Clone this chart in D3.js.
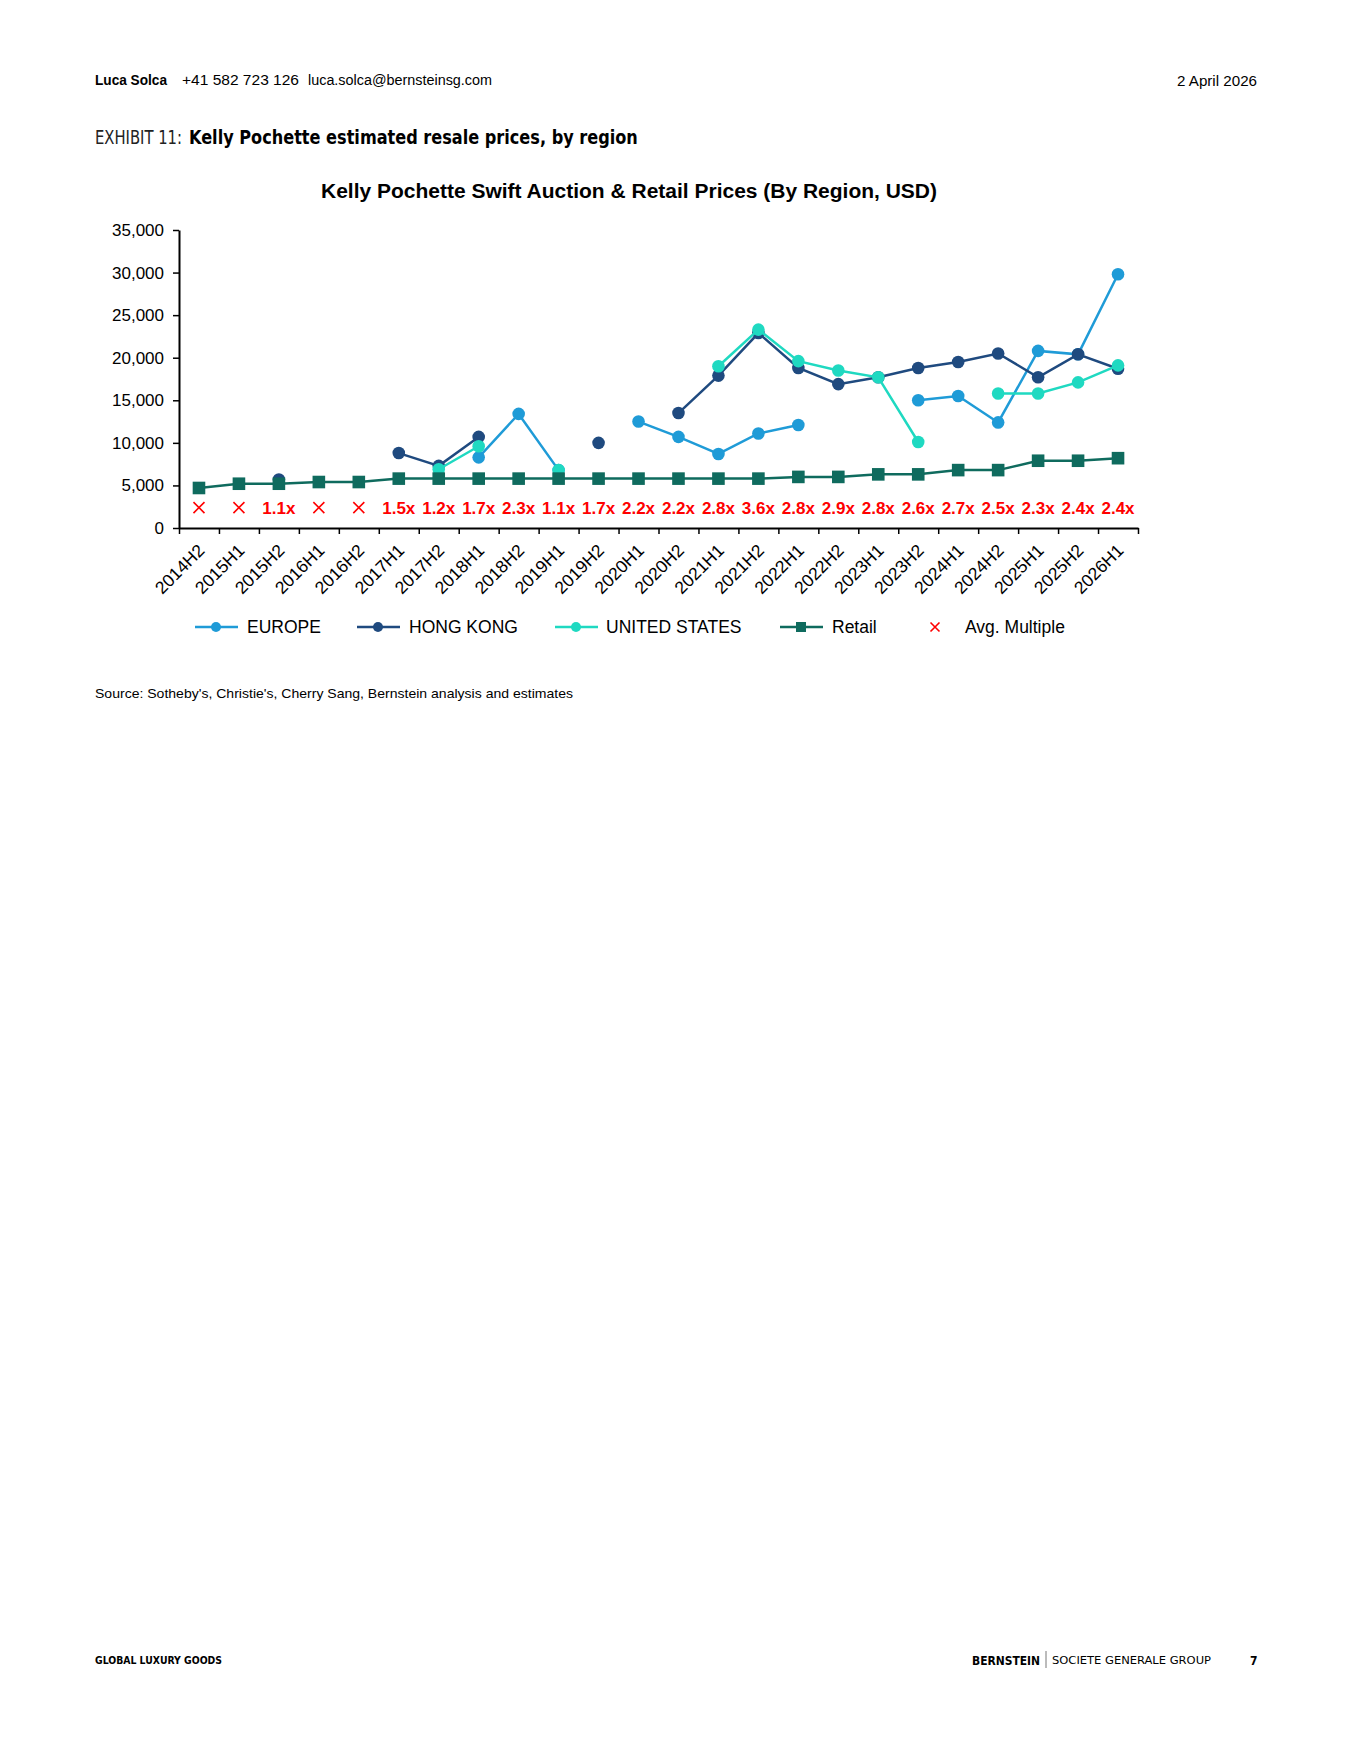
<!DOCTYPE html>
<html>
<head>
<meta charset="utf-8">
<script src="https://cdn.jsdelivr.net/npm/d3@7"></script>
<style>
  body { margin: 0; background: #fff; }
  svg { display: block; }
</style>
</head>
<body>
<div id="page"></div>
<script>
// half-year periods on the x axis
var categories = ['2014H2','2015H1','2015H2','2016H1','2016H2','2017H1','2017H2','2018H1','2018H2','2019H1',
  '2019H2','2020H1','2020H2','2021H1','2021H2','2022H1','2022H2','2023H1','2023H2','2024H1',
  '2024H2','2025H1','2025H2','2026H1'];

// auction prices (USD), null = no sale that period
var europe = [null,null,null,null,null,null,null,8300,13400,6800,null,12500,10700,8700,11100,12100,null,null,15000,15500,12400,20800,20400,29800];
var hongKong = [null,null,5700,null,null,8800,7300,10700,null,null,10000,null,13500,17900,22900,18800,16900,17700,18800,19500,20500,17700,20400,18700];
var unitedStates = [null,null,null,null,null,null,6900,9600,null,6800,null,null,null,19000,23300,19600,18500,17700,10100,null,15800,15800,17100,19100];
var retail = [4700,5200,5200,5400,5400,5800,5800,5800,5800,5800,5800,5800,5800,5800,5800,6000,6000,6300,6300,6800,6800,7900,7900,8200];

// avg auction / retail multiple, null shown as a cross
var multiples = [null,null,1.1,null,null,1.5,1.2,1.7,2.3,1.1,1.7,2.2,2.2,2.8,3.6,2.8,2.9,2.8,2.6,2.7,2.5,2.3,2.4,2.4];
var multipleLevel = 2400;   // value the multiple labels sit at

var yTicks = [0,5000,10000,15000,20000,25000,30000,35000];

var series = [
  {name: 'EUROPE', values: europe, color: '#1f9bd7', marker: 'circle'},
  {name: 'HONG KONG', values: hongKong, color: '#1f4a7f', marker: 'circle'},
  {name: 'UNITED STATES', values: unitedStates, color: '#1fd9c1', marker: 'circle'},
  {name: 'Retail', values: retail, color: '#0f6b5e', marker: 'square'}
];

var W = 1354, H = 1753;
var font = '"Liberation Sans", Arial, sans-serif';
var condensed = '"DejaVu Sans Condensed", "DejaVu Sans", sans-serif';

var svg = d3.select('#page').append('svg')
  .attr('width', W)
  .attr('height', H)
  .style('font-family', font);

svg.append('rect').attr('width', W).attr('height', H).attr('fill', '#fff');

// ---- page header
var head = svg.append('g').attr('fill', '#000').style('font-size', '14px');
head.append('text').attr('x', 95).attr('y', 85).attr('font-weight', 'bold')
  .attr('textLength', 72).attr('lengthAdjust', 'spacingAndGlyphs').text('Luca Solca');
head.append('text').attr('x', 182).attr('y', 85)
  .attr('textLength', 117).attr('lengthAdjust', 'spacingAndGlyphs').text('+41 582 723 126');
head.append('text').attr('x', 308).attr('y', 85)
  .attr('textLength', 184).attr('lengthAdjust', 'spacingAndGlyphs').text('luca.solca@bernsteinsg.com');
head.append('text').attr('x', 1257).attr('y', 86).attr('text-anchor', 'end')
  .style('font-size', '15px')
  .attr('textLength', 80).attr('lengthAdjust', 'spacingAndGlyphs')
  .text('2 April 2026');

// squeeze a text horizontally so it spans w pixels
function fitWidth(sel, x0, y0, w) {
  var nat = sel.node().getComputedTextLength();
  sel.attr('transform', 'translate(' + x0 + ',' + y0 + ') scale(' + (w / nat) + ',1)');
}

var exLabel = svg.append('text')
  .style('font-family', condensed).style('font-size', '20px')
  .attr('font-weight', 300).attr('fill', '#222')
  .text('EXHIBIT 11:');
fitWidth(exLabel, 95, 144, 87);
var exTitle = svg.append('text')
  .style('font-family', condensed).style('font-size', '20px')
  .attr('font-weight', 'bold')
  .text('Kelly Pochette estimated resale prices, by region');
fitWidth(exTitle, 189, 144, 449);

// ---- chart
var margin = {left: 179, right: 1138, top: 230, bottom: 528};

var x = d3.scaleBand().domain(categories).range([margin.left, margin.right]).padding(0);
var xEdge = d3.scaleLinear().domain([0, categories.length]).range([margin.left, margin.right]);
var y = d3.scaleLinear().domain([0, 35000]).range([margin.bottom, margin.top]);
var cx = function(i) { return x(categories[i]) + x.bandwidth() / 2; };

svg.append('text')
  .attr('x', 629).attr('y', 198)
  .attr('text-anchor', 'middle')
  .attr('font-weight', 'bold')
  .style('font-size', '20px')
  .attr('textLength', 616).attr('lengthAdjust', 'spacingAndGlyphs')
  .text('Kelly Pochette Swift Auction & Retail Prices (By Region, USD)');

// y axis
var yAxis = d3.axisLeft(y).tickValues(yTicks).tickFormat(d3.format(','))
  .tickSizeInner(6).tickSizeOuter(0).tickPadding(9);
var gy = svg.append('g').attr('transform', 'translate(' + margin.left + ',0)').call(yAxis);
gy.select('.domain').attr('stroke', '#000').attr('stroke-width', 2);
gy.selectAll('.tick line').attr('stroke', '#000').attr('stroke-width', 1.5);
gy.selectAll('.tick text').style('font-family', font).style('font-size', '17px').attr('fill', '#000');

// x axis: ticks between categories, labels rotated under each band
var xAxis = d3.axisBottom(xEdge).tickValues(d3.range(categories.length + 1))
  .tickFormat('').tickSizeInner(6).tickSizeOuter(0);
var gx = svg.append('g').attr('transform', 'translate(0,' + margin.bottom + ')').call(xAxis);
gx.select('.domain').attr('stroke', '#000').attr('stroke-width', 2);
gx.selectAll('.tick line').attr('stroke', '#000').attr('stroke-width', 1.5);

svg.append('g').selectAll('text')
  .data(categories)
  .enter().append('text')
    .attr('transform', function(d, i) { return 'translate(' + (cx(i) - 2) + ',' + (margin.bottom + 15) + ') rotate(-45)'; })
    .attr('text-anchor', 'end')
    .attr('dy', '0.7em')
    .style('font-size', '17.5px')
    .attr('fill', '#000')
    .text(function(d) { return d; });

// series lines + markers
var line = d3.line()
  .defined(function(d) { return d != null; })
  .x(function(d, i) { return cx(i); })
  .y(function(d) { return y(d); });

series.forEach(function(s) {
  var g = svg.append('g').attr('class', 'series');
  g.append('path')
    .datum(s.values)
    .attr('fill', 'none')
    .attr('stroke', s.color)
    .attr('stroke-width', 2.5)
    .attr('d', line);

  var pts = s.values.map(function(v, i) { return {v: v, i: i}; })
    .filter(function(d) { return d.v != null; });

  if (s.marker == 'circle') {
    g.selectAll('circle').data(pts).enter().append('circle')
      .attr('cx', function(d) { return cx(d.i); })
      .attr('cy', function(d) { return y(d.v); })
      .attr('r', 6.3)
      .attr('fill', s.color);
  } else {
    g.selectAll('rect').data(pts).enter().append('rect')
      .attr('x', function(d) { return cx(d.i) - 6.3; })
      .attr('y', function(d) { return y(d.v) - 6.3; })
      .attr('width', 12.6)
      .attr('height', 12.6)
      .attr('fill', s.color);
  }
});

// avg multiple labels (cross when missing)
var red = '#ff0000';
var gm = svg.append('g');
multiples.forEach(function(m, i) {
  var px = cx(i), py = y(multipleLevel);
  if (m == null) {
    gm.append('path')
      .attr('d', 'M' + (px - 5.5) + ',' + (py - 5.5) + 'L' + (px + 5.5) + ',' + (py + 5.5) +
                 'M' + (px - 5.5) + ',' + (py + 5.5) + 'L' + (px + 5.5) + ',' + (py - 5.5))
      .attr('stroke', red).attr('stroke-width', 1.6);
  } else {
    gm.append('text')
      .attr('x', px).attr('y', py)
      .attr('dy', '0.36em')
      .attr('text-anchor', 'middle')
      .attr('font-weight', 'bold')
      .style('font-size', '17px')
      .attr('fill', red)
      .text(d3.format('.1f')(m) + 'x');
  }
});

// legend
var legendY = 627;
var legendItems = [
  {name: 'EUROPE', color: series[0].color, marker: 'circle', x0: 195, tx: 247},
  {name: 'HONG KONG', color: series[1].color, marker: 'circle', x0: 357, tx: 409},
  {name: 'UNITED STATES', color: series[2].color, marker: 'circle', x0: 555, tx: 606},
  {name: 'Retail', color: series[3].color, marker: 'square', x0: 780, tx: 832},
  {name: 'Avg. Multiple', color: red, marker: 'cross', x0: 914, tx: 965}
];
var lg = svg.append('g').style('font-size', '17.5px');
legendItems.forEach(function(d) {
  var mid = d.x0 + 21;
  if (d.marker != 'cross') {
    lg.append('line').attr('x1', d.x0).attr('x2', d.x0 + 43)
      .attr('y1', legendY).attr('y2', legendY)
      .attr('stroke', d.color).attr('stroke-width', 2.5);
  }
  if (d.marker == 'circle') {
    lg.append('circle').attr('cx', mid).attr('cy', legendY).attr('r', 5).attr('fill', d.color);
  } else if (d.marker == 'square') {
    lg.append('rect').attr('x', mid - 5).attr('y', legendY - 5).attr('width', 10).attr('height', 10).attr('fill', d.color);
  } else {
    lg.append('path')
      .attr('d', 'M' + (mid - 4.5) + ',' + (legendY - 4.5) + 'L' + (mid + 4.5) + ',' + (legendY + 4.5) +
                 'M' + (mid - 4.5) + ',' + (legendY + 4.5) + 'L' + (mid + 4.5) + ',' + (legendY - 4.5))
      .attr('stroke', d.color).attr('stroke-width', 1.6);
  }
  lg.append('text').attr('x', d.tx).attr('y', legendY).attr('dy', '0.35em')
    .attr('fill', '#000').text(d.name);
});

// source
svg.append('text').attr('x', 95).attr('y', 698)
  .style('font-size', '13.5px')
  .attr('textLength', 478).attr('lengthAdjust', 'spacingAndGlyphs')
  .text("Source: Sotheby's, Christie's, Cherry Sang, Bernstein analysis and estimates");

// ---- footer
var foot = svg.append('g').style('font-family', condensed).attr('fill', '#000');
foot.append('text').attr('x', 95).attr('y', 1664).attr('font-weight', 'bold')
  .style('font-size', '11px')
  .attr('textLength', 127).attr('lengthAdjust', 'spacingAndGlyphs').text('GLOBAL LUXURY GOODS');
foot.append('text').attr('x', 972).attr('y', 1665).attr('font-weight', 'bold')
  .style('font-size', '12px')
  .attr('textLength', 68).attr('lengthAdjust', 'spacingAndGlyphs').text('BERNSTEIN');
foot.append('line').attr('x1', 1046).attr('x2', 1046).attr('y1', 1651).attr('y2', 1668)
  .attr('stroke', '#555').attr('stroke-width', 0.8);
foot.append('text').attr('x', 1052).attr('y', 1664)
  .style('font-size', '11px')
  .attr('textLength', 159).attr('lengthAdjust', 'spacingAndGlyphs').text('SOCIETE GENERALE GROUP');
foot.append('text').attr('x', 1250).attr('y', 1665).attr('font-weight', 'bold')
  .style('font-size', '12px').text('7');
</script>
</body>
</html>
